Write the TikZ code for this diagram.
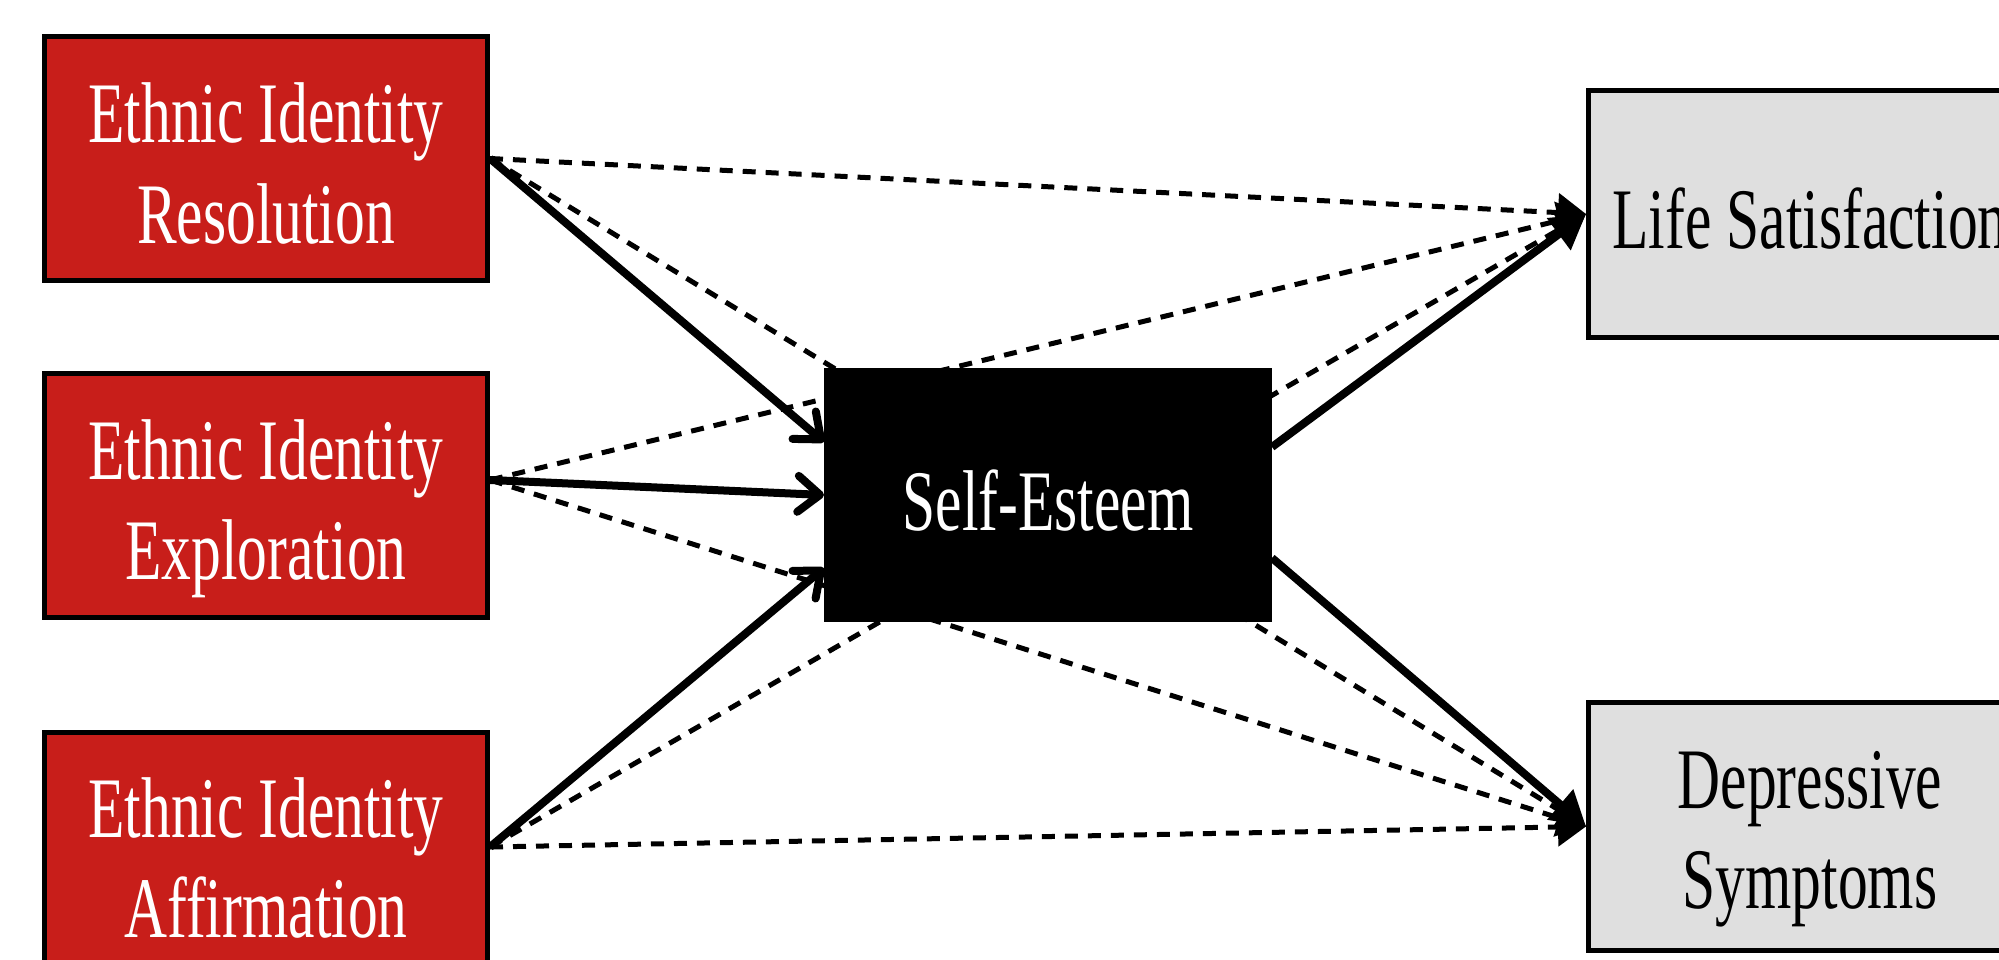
\documentclass[tikz,border=0pt]{standalone}
\usepackage{fontspec}
\setmainfont{Liberation Serif}
\usetikzlibrary{arrows.meta,backgrounds}
\definecolor{boxred}{RGB}{200,30,26}
\definecolor{boxgray}{RGB}{223,223,223}
\newcommand{\talltext}[1]{\scalebox{1}[1.45]{\begin{tabular}[t]{@{}c@{}}#1\end{tabular}}}
\begin{document}
\begin{tikzpicture}[x=1pt,y=-1pt,
  redbox/.style={draw=black, line width=5pt, fill=boxred, minimum width=443pt, minimum height=244pt, inner sep=0pt},
  graybox/.style={draw=black, line width=5pt, fill=boxgray, minimum width=443pt, minimum height=247pt, inner sep=0pt},
  blackbox/.style={fill=black, minimum width=448pt, minimum height=254pt, inner sep=0pt, outer sep=0pt},
  lbl/.style={anchor=base, inner sep=0pt, font=\fontsize{59.5}{69}\selectfont},
  solidline/.style={line width=8pt},
  dashline/.style={line width=5pt, dash pattern=on 13pt off 10pt},
  barb/.style={-{Straight Barb[length=22pt,width=36pt,line width=8pt,round]}},
  bigtip/.style={-{Triangle[length=34pt,width=38pt]}},
  smalltip/.style={-{Triangle[length=28pt,width=38pt]}}
]
\clip (0,0) rectangle (1999,960);
\useasboundingbox (0,0) rectangle (1999,960);

\node[redbox] (res) at (266,158.5) {};
\node[redbox] (expl) at (266,495.5) {};
\node[redbox] (aff) at (266,854.5) {};
\node[blackbox] (se) at (1048,495) {};
\node[graybox] (ls) at (1810,214) {};
\node[graybox, minimum height=248pt] (ds) at (1810,826.5) {};

\node[lbl, text=white] (resT) at (266,143) {\talltext{Ethnic Identity\\Resolution}};
\node[lbl, text=white] (explT) at (266,479) {\talltext{Ethnic Identity\\Exploration}};
\node[lbl, text=white] (affT) at (266,837) {\talltext{Ethnic Identity\\Affirmation}};
\node[lbl, text=white] (seT) at (1048,530) {\talltext{Self-Esteem}};
\node[lbl, text=black] (lsT) at (1810,248) {\talltext{Life Satisfaction}};
\node[lbl, text=black] (dsT) at (1810,808) {\talltext{Depressive\\Symptoms}};

\begin{scope}[on background layer]
\draw[dashline, smalltip] (res.east) -- (ls.west);
\draw[dashline, smalltip] (res.east) -- (ds.west);
\draw[dashline, smalltip] ([yshift=15.5pt]expl.east) -- (ls.west);
\draw[dashline, smalltip] ([yshift=15.5pt]expl.east) -- (ds.west);
\draw[dashline, smalltip] ([yshift=7.5pt]aff.east) -- (ls.west);
\draw[dashline, smalltip] ([yshift=7.5pt]aff.east) -- (ds.west);
\end{scope}

\draw[solidline, barb] (res.east) -- ([yshift=53pt]se.west);
\draw[solidline, barb] ([yshift=15.5pt]expl.east) -- (se.west);
\draw[solidline, barb] ([yshift=7.5pt]aff.east) -- ([yshift=-73pt]se.west);
\draw[solidline, bigtip] ([yshift=48pt]se.east) -- (ls.west);
\draw[solidline, bigtip] ([yshift=-63pt]se.east) -- (ds.west);
\end{tikzpicture}
\end{document}
